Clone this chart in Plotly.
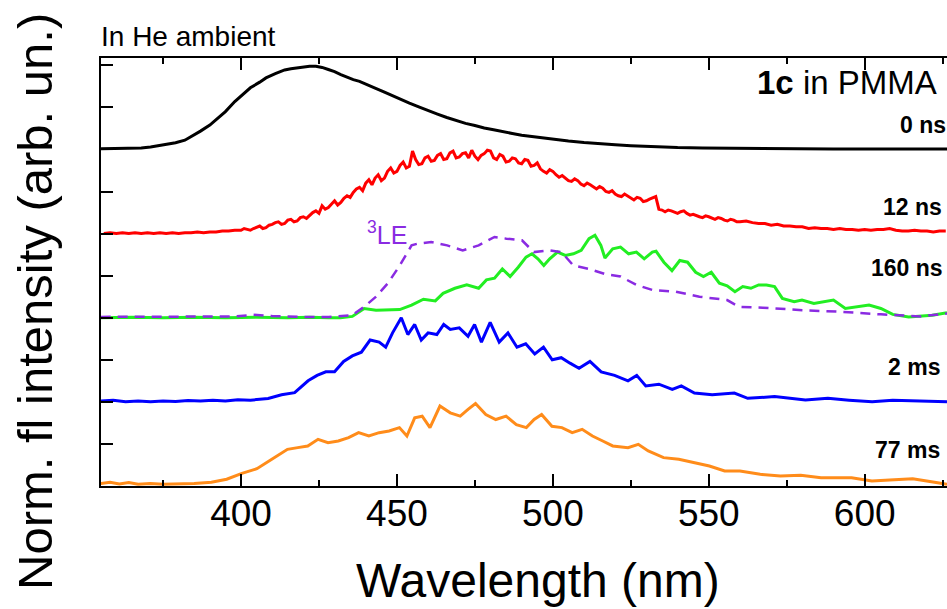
import plotly.graph_objects as go

# ---------------- data ----------------
# 0 ns (black)
wl_0ns = [355, 360, 365, 368, 371, 374, 376, 379, 382, 385,
          387, 390, 392, 395, 398, 400, 403, 406, 408, 411,
          414, 416, 418, 420, 422, 424, 426, 428, 430, 432,
          434, 436, 438, 440, 443, 446, 449, 451, 454, 457,
          460, 463, 466, 469, 472, 475, 478, 481, 484, 487,
          490, 493, 497, 501, 505, 510, 515, 520, 525, 530,
          535, 540, 548, 556, 565, 575, 590, 605, 626.4]
int_0ns = [0.008, 0.010, 0.012, 0.018, 0.028, 0.045, 0.057, 0.080, 0.110, 0.170,
           0.218, 0.290, 0.350, 0.450, 0.570, 0.635, 0.733, 0.800, 0.850, 0.900,
           0.945, 0.960, 0.972, 0.980, 0.990, 0.988, 0.975, 0.950, 0.925, 0.890,
           0.860, 0.830, 0.810, 0.780, 0.730, 0.680, 0.630, 0.595, 0.550, 0.505,
           0.460, 0.420, 0.380, 0.345, 0.310, 0.285, 0.255, 0.235, 0.210, 0.190,
           0.170, 0.155, 0.135, 0.115, 0.100, 0.082, 0.066, 0.055, 0.045, 0.036,
           0.029, 0.023, 0.018, 0.014, 0.010, 0.008, 0.005, 0.004, 0.004]

# 12 ns (red): 2 nm steps below 400 nm and above 560 nm, 1 nm steps in between
wl_12ns = list(range(356, 400, 2)) + list(range(400, 561)) + list(range(562, 627, 2))
int_12ns = [0.00, 0.01, 0.00, 0.01, 0.00, 0.01, 0.00, 0.01, 0.00, 0.01,
            0.00, 0.01, 0.00, 0.01, 0.01, 0.02, 0.01, 0.02, 0.02, 0.03,
            0.03, 0.04,
            # 400 .. 560 nm
            0.04, 0.06, 0.05, 0.04, 0.06, 0.08, 0.09, 0.06, 0.07, 0.10,
            0.11, 0.13, 0.14, 0.11, 0.12, 0.16, 0.17, 0.14, 0.15, 0.19,
            0.20, 0.18, 0.22, 0.25, 0.27, 0.24, 0.33, 0.29, 0.31, 0.35,
            0.39, 0.34, 0.37, 0.42, 0.45, 0.43, 0.49, 0.53, 0.55, 0.51,
            0.60, 0.64, 0.58, 0.66, 0.70, 0.63, 0.66, 0.74, 0.78, 0.72,
            0.74, 0.81, 0.85, 0.78, 0.80, 0.98, 0.88, 0.82, 0.83, 0.90,
            0.92, 0.86, 0.87, 0.93, 0.95, 0.88, 0.89, 0.96, 0.98, 0.90,
            0.91, 0.95, 0.96, 0.90, 0.99, 0.92, 0.88, 0.93, 0.95, 0.99,
            0.98, 0.90, 0.88, 0.94, 0.92, 0.85, 0.86, 0.90, 0.89, 0.84,
            0.83, 0.88, 0.87, 0.80, 0.81, 0.84, 0.77, 0.74, 0.72, 0.76,
            0.74, 0.70, 0.67, 0.69, 0.66, 0.63, 0.62, 0.65, 0.63, 0.59,
            0.57, 0.60, 0.58, 0.55, 0.53, 0.56, 0.54, 0.50, 0.49, 0.51,
            0.47, 0.45, 0.44, 0.47, 0.45, 0.42, 0.40, 0.43, 0.42, 0.38,
            0.39, 0.41, 0.43, 0.44, 0.29, 0.28, 0.26, 0.28, 0.27, 0.25,
            0.24, 0.26, 0.27, 0.24, 0.22, 0.23, 0.21, 0.20, 0.19, 0.21,
            0.20, 0.18, 0.17, 0.19, 0.18, 0.16, 0.15, 0.17, 0.16, 0.14,
            0.14,
            # 562 .. 626 nm
            0.15, 0.13, 0.12, 0.12, 0.10, 0.11, 0.09, 0.09, 0.08, 0.08,
            0.06, 0.07, 0.06, 0.06, 0.05, 0.06, 0.05, 0.05, 0.04, 0.05,
            0.04, 0.05, 0.05, 0.06, 0.04, 0.03, 0.03, 0.04, 0.03, 0.03,
            0.02, 0.03, 0.03]

# 160 ns (green)
wl_160ns = [355, 365, 375, 385, 395, 405, 415, 422, 428.1, 431.9,
            435.7, 439.5, 443.3, 447.1, 450.9, 454.7, 458.5, 462.3, 464.8, 468.6,
            472.4, 476.2, 478.7, 481.3, 483.8, 486.3, 488.9, 491.4, 493.3, 495.2,
            497.1, 499.0, 501.5, 504.0, 506.6, 509.1, 511.6, 513.5, 515.4, 516.7,
            519.2, 521.7, 524.3, 526.8, 529.3, 531.9, 533.1, 535.6, 538.2, 540.7,
            543.2, 545.8, 548.3, 550.8, 553.4, 555.9, 558.4, 560.9, 563.5, 566.0,
            568.5, 571.1, 573.6, 577.4, 579.9, 583.7, 587.5, 590.0, 593.8, 597.6,
            601.4, 605.2, 609.0, 614.1, 617.9, 621.7, 626.4]
int_160ns = [0.000, 0.005, 0.000, 0.005, 0.000, 0.005, 0.000, 0.005, 0.000, 0.000,
             0.016, 0.110, 0.090, 0.097, 0.097, 0.150, 0.220, 0.200, 0.290, 0.350,
             0.390, 0.350, 0.450, 0.470, 0.580, 0.490, 0.600, 0.720, 0.760, 0.700,
             0.620, 0.700, 0.780, 0.740, 0.760, 0.800, 0.940, 0.980, 0.860, 0.710,
             0.820, 0.840, 0.760, 0.780, 0.700, 0.780, 0.790, 0.660, 0.560, 0.680,
             0.660, 0.540, 0.490, 0.540, 0.410, 0.380, 0.310, 0.370, 0.350, 0.390,
             0.390, 0.370, 0.230, 0.190, 0.210, 0.170, 0.190, 0.210, 0.110, 0.130,
             0.150, 0.110, 0.040, 0.010, 0.016, 0.030, 0.060]

# 3LE reference (violet dashed)
wl_3le = [355, 370, 385, 398, 404, 410, 420, 428.1, 435.7, 439.5,
          443.3, 447.1, 450.9, 454.7, 456.6, 461.0, 466.1, 471.1, 476.2, 481.3,
          485.1, 490.1, 493.9, 499.0, 502.8, 506.6, 511.6, 516.7, 521.7, 526.8,
          531.9, 539.4, 547.0, 552.1, 555.9, 559.7, 567.3, 580.0, 592.6, 605.2,
          617.9, 626.4]
int_3le = [0.010, 0.010, 0.010, 0.015, 0.035, 0.020, 0.010, 0.010, 0.030, 0.130,
           0.250, 0.410, 0.620, 0.860, 0.880, 0.900, 0.860, 0.800, 0.860, 0.960,
           0.940, 0.920, 0.780, 0.800, 0.780, 0.620, 0.580, 0.520, 0.490, 0.390,
           0.330, 0.310, 0.250, 0.230, 0.210, 0.130, 0.120, 0.090, 0.070, 0.040,
           0.016, 0.050]

# 2 ms (blue)
wl_2ms = [355, 359, 363, 367, 371, 375, 379, 383, 387, 391,
          395, 399, 403.0, 408.7, 413.0, 417.2, 421.5, 424.4, 427.2, 430.0,
          432.9, 435.7, 438.6, 441.4, 444.3, 446.4, 448.6, 451.4, 453.5, 455.7,
          457.8, 460.0, 462.8, 465.0, 467.1, 470.0, 472.8, 474.9, 477.1, 479.9,
          482.8, 485.6, 488.5, 491.3, 494.2, 497.0, 499.8, 502.7, 505.5, 508.4,
          511.9, 515.5, 519.8, 524.1, 526.9, 529.8, 534.0, 538.3, 541.2, 545.4,
          551.1, 558.2, 562.5, 571.1, 581.0, 588.2, 595.0, 602.4, 609.0, 616.6,
          621.0, 626.4]
int_2ms = [0.010, 0.020, 0.000, 0.010, 0.000, 0.010, 0.005, 0.015, 0.010, 0.020,
           0.010, 0.025, 0.020, 0.040, 0.084, 0.110, 0.250, 0.315, 0.357, 0.357,
           0.480, 0.546, 0.590, 0.735, 0.710, 0.650, 0.820, 1.000, 0.800, 0.920,
           0.735, 0.820, 0.800, 0.920, 0.860, 0.880, 0.780, 0.920, 0.710, 0.945,
           0.710, 0.820, 0.650, 0.690, 0.570, 0.650, 0.500, 0.525, 0.460, 0.400,
           0.480, 0.357, 0.315, 0.250, 0.315, 0.190, 0.210, 0.147, 0.190, 0.105,
           0.084, 0.105, 0.042, 0.063, 0.021, 0.042, 0.020, 0.000, 0.020, 0.013,
           0.005, 0.000]

# 77 ms (orange)
wl_77ms = [355, 358, 361, 364, 367, 370.9, 375, 380.7, 385, 390.5,
           395.4, 400.3, 405.1, 410.0, 414.9, 418.2, 421.4, 424.7, 427.9, 431.2,
           434.5, 437.7, 441.0, 444.3, 447.5, 450.8, 453.2, 455.7, 458.1, 460.6,
           463.8, 467.1, 470.3, 472.8, 475.2, 478.5, 481.7, 485.0, 488.3, 491.5,
           494.0, 496.4, 499.7, 502.9, 506.2, 509.4, 512.7, 516.0, 519.2, 524.1,
           527.4, 530.6, 535.5, 540.4, 545.3, 550.2, 555.1, 560.0, 566.5, 573.0,
           579.5, 586.0, 595.8, 602.3, 608.0, 615.4, 621.9, 626.4]
int_77ms = [0.010, 0.025, 0.005, 0.020, 0.000, 0.010, 0.000, 0.005, 0.010, 0.025,
            0.060, 0.130, 0.186, 0.300, 0.416, 0.436, 0.456, 0.535, 0.495, 0.515,
            0.555, 0.614, 0.574, 0.614, 0.634, 0.674, 0.574, 0.790, 0.810, 0.674,
            0.930, 0.850, 0.810, 0.890, 0.960, 0.830, 0.770, 0.810, 0.710, 0.674,
            0.770, 0.830, 0.690, 0.674, 0.614, 0.654, 0.574, 0.515, 0.456, 0.436,
            0.475, 0.396, 0.317, 0.297, 0.257, 0.218, 0.158, 0.158, 0.119, 0.099,
            0.107, 0.079, 0.079, 0.040, 0.050, 0.067, 0.028, 0.000]

labels = ["0 ns", "12 ns", "160 ns", "2 ms", "77 ms"]
offsets = [4.0, 3.0, 2.0, 1.0, 0.02]

for a, b in [(wl_0ns, int_0ns), (wl_12ns, int_12ns), (wl_160ns, int_160ns),
             (wl_3le, int_3le), (wl_2ms, int_2ms), (wl_77ms, int_77ms)]:
    assert len(a) == len(b), (len(a), len(b))

# ---------------- figure ----------------
W, H = 947, 609
L, R, T, B = 101, 947, 58, 486
FONT = "Liberation Sans, Arial, sans-serif"


def pxx(x):
    return (x - L) / (R - L)


def pxy(y):
    return (B - y) / (B - T)


fig = go.Figure()
traces = [
    (wl_0ns, int_0ns, offsets[0], "#000000", "solid", 3),
    (wl_12ns, int_12ns, offsets[1], "#FF0000", "solid", 3),
    (wl_160ns, int_160ns, offsets[2], "#22EE22", "solid", 3),
    (wl_3le, int_3le, offsets[2], "#8A2BE2", "10px,7px", 2.5),
    (wl_2ms, int_2ms, offsets[3], "#0000FF", "solid", 3),
    (wl_77ms, int_77ms, offsets[4], "#FF8C1A", "solid", 3),
]
for wl, iv, off, col, dash, lw in traces:
    fig.add_trace(go.Scatter(x=wl, y=[v + off for v in iv], mode="lines",
                             line=dict(color=col, width=lw, dash=dash),
                             showlegend=False, hoverinfo="skip"))

fig.update_layout(
    width=W, height=H, autosize=False,
    margin=dict(l=L, r=W - R, t=T, b=H - B, pad=0),
    paper_bgcolor="white", plot_bgcolor="white",
    font=dict(family=FONT, color="black"),
)
fig.update_xaxes(
    range=[355.1, 626.4], showline=True, linecolor="black", linewidth=2,
    mirror="ticks", ticks="inside", ticklen=12, tickwidth=2, tickcolor="black",
    tick0=400, dtick=50, tickfont=dict(size=37, family=FONT, color="black"),
    minor=dict(tick0=375, dtick=25, ticks="inside", ticklen=6, tickwidth=2,
               tickcolor="black", showgrid=False),
    showgrid=False, zeroline=False, ticklabelstandoff=-6,
)
fig.update_yaxes(
    range=[0, 5.087], showline=True, linecolor="black", linewidth=2,
    mirror=False, ticks="inside", ticklen=12, tickwidth=2, tickcolor="black",
    tick0=0, dtick=0.5, showticklabels=False, showgrid=False, zeroline=False,
)

ann = []
# series labels at right
lab_pos = [(948, 125), (944, 207), (945, 268), (942, 367), (942, 450)]
for t, (x, y) in zip(labels, lab_pos):
    ann.append(dict(text="<b>%s</b>" % t, x=pxx(x), y=pxy(y), xref="paper", yref="paper",
                    xanchor="right", yanchor="middle", showarrow=False,
                    font=dict(size=23, family=FONT, color="black")))
ann.append(dict(text="<b>1c</b> in PMMA", x=pxx(939), y=pxy(82), xref="paper", yref="paper",
                xanchor="right", yanchor="middle", showarrow=False,
                font=dict(size=33, family=FONT, color="black")))
ann.append(dict(text="In He ambient", x=pxx(99), y=pxy(37), xref="paper", yref="paper",
                xanchor="left", yanchor="middle", showarrow=False,
                font=dict(size=28, family=FONT, color="black")))
ann.append(dict(text="<sup>3</sup>LE", x=pxx(365), y=pxy(233), xref="paper", yref="paper",
                xanchor="left", yanchor="middle", showarrow=False,
                font=dict(size=25, family=FONT, color="#8A2BE2")))
ann.append(dict(text="Wavelength (nm)", x=pxx(538), y=pxy(580), xref="paper", yref="paper",
                xanchor="center", yanchor="middle", showarrow=False,
                font=dict(size=48, family=FONT, color="black")))
ann.append(dict(text="Norm. fl intensity (arb. un.)", x=pxx(35), y=pxy(302),
                xref="paper", yref="paper", xanchor="center", yanchor="middle",
                textangle=-90, showarrow=False,
                font=dict(size=49, family=FONT, color="black")))
fig.update_layout(annotations=ann)

fig.write_html("out.html")
